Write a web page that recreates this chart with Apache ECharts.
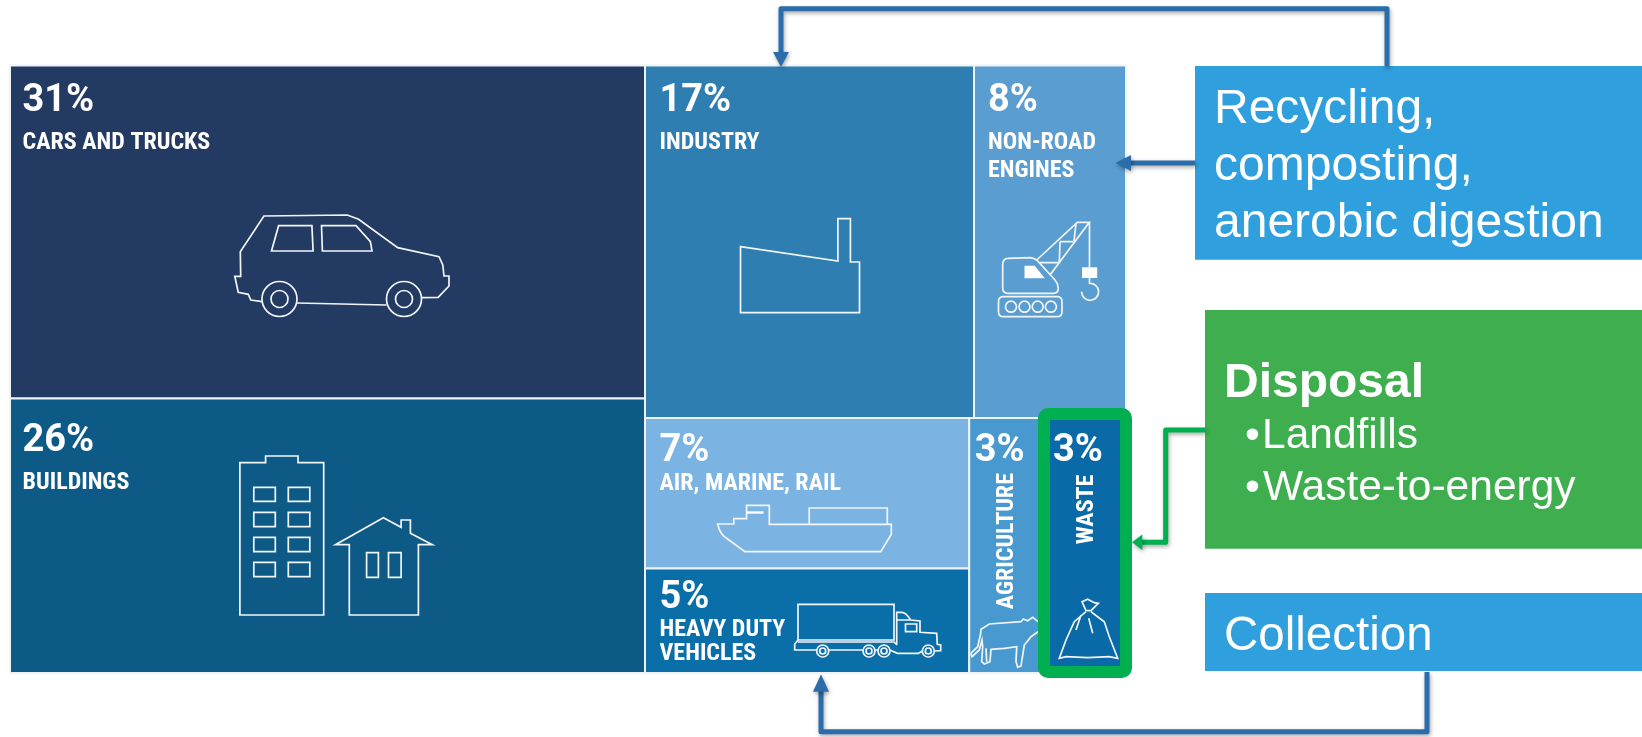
<!DOCTYPE html>
<html><head><meta charset="utf-8">
<style>html,body{margin:0;padding:0;background:#fff}#c{width:1642px;height:737px}</style>
<script src="https://cdn.jsdelivr.net/npm/echarts@6/dist/echarts.min.js"></script>
</head><body><div id="c"></div>
<script>
// Treemap data. Values are shares; the printed labels are these, rounded.
const categories = ['CARS AND TRUCKS','BUILDINGS','INDUSTRY','NON-ROAD\nENGINES','AIR, MARINE, RAIL','HEAVY DUTY\nVEHICLES','AGRICULTURE','WASTE'];
const shares = [31.2, 25.7, 17.1, 7.9, 7.2, 5.0, 2.95, 2.95];
const cellColors = ['#233a62','#0d5a87','#2e7eb2','#5a9dd0','#7bb4e3','#0a6fa9','#4899d0','#0a6aa8'];

// Slice-and-dice nesting of the treemap, computed only from shares (x,y in percent of the plot)
function cellsFromShares(v){
  const L=v[0]+v[1], R=v[2]+v[3]+v[4]+v[5]+v[6]+v[7], T=v[2]+v[3], B=R-T, Bl=v[4]+v[5], Br=v[6]+v[7];
  const tot=L+R, xm=100*L/tot, wr=100-xm, ym=100*T/R;
  const xi=xm+wr*v[2]/T, xb=xm+wr*Bl/B, xw=xb+(100-xb)*v[6]/Br, ya=ym+(100-ym)*v[4]/Bl;
  return [
    [0,0,xm,100*v[0]/L],[0,100*v[0]/L,xm,100],
    [xm,0,xi,ym],[xi,0,100,ym],
    [xm,ym,xb,ya],[xm,ya,xb,100],
    [xb,ym,xw,100],[xw,ym,100,100]
  ];
}
const cells = cellsFromShares(shares);

const NARROW = '"Liberation Sans Narrow","Roboto Condensed",Roboto,sans-serif';
const pctFont = 'bold 38px Roboto,sans-serif';
const nameFont = 'bold 24px '+NARROW;
// label placement relative to each cell's top-left corner: dx, percent baseline, name baselines
const labelPlace = [
  {dx:12.5,p:45.5,n:[83.5]},{dx:12.5,p:52.7,n:[91]},
  {dx:14.5,p:45.5,n:[83.5]},{dx:14,p:45.5,n:[83.5,112]},
  {dx:14.5,p:44,n:[72.7]},{dx:14.5,p:40,n:[68,91.6]},
  {dx:5.5,p:44,rot:[44.5,191.3]},{dx:5.3,p:44,rot:[45.8,126.3]}
];
function baseText(text,x,y,font,extra){
  return Object.assign({type:'text',x:x,y:y,style:{text:text,font:font,fill:'#fff',align:'left',textAlign:'left',verticalAlign:'bottom',textVerticalAlign:'bottom'}},extra||{});
}
function renderCell(params,api){
  const i=params.dataIndex;
  const a=api.coord([api.value(0),api.value(1)]), b=api.coord([api.value(2),api.value(3)]);
  const pl=labelPlace[i], kids=[{type:'rect',shape:{x:a[0],y:a[1],width:b[0]-a[0],height:b[1]-a[1]},style:{fill:cellColors[i],stroke:'#eef3f8',lineWidth:2}}];
  const PB=9, NB=5.5; // descender room under the baseline for the 'bottom' text anchor
  kids.push(baseText(Math.round(shares[i])+'%',a[0]+pl.dx,a[1]+pl.p+PB,pctFont));
  if(pl.rot){
    kids.push(baseText(categories[i],a[0]+pl.rot[0]+NB,a[1]+pl.rot[1],nameFont,{rotation:Math.PI/2}));
  }else{
    categories[i].split('\n').forEach(function(s,k){kids.push(baseText(s,a[0]+pl.dx,a[1]+pl.n[k]+NB,nameFont));});
  }
  return {type:'group',children:kids};
}

// Line icons (decoration inside the cells)
const strokeIcons = [
 // car
 'M421.7 297.7L438.1 297.3L449 286L449 276L444 276L442.8 265L439 256.7L397.7 247.7L358.6 219.3L347.2 215L263.9 216L240.3 251.7L240.7 276.3L234.8 276.3L238.2 292.3L248.3 294.3L250.8 300L262.2 301.7M296.7 303L386.4 305',
 'M278.6 225.7L311.9 225.7L313.1 251L271.5 251ZM321.5 225.7L356 225.7L370.4 241.7L372 251L322.4 251Z',
 'M262 299a17.3 17.3 0 1 0 35 0a17.3 17.3 0 1 0 -35 0ZM271 299a8.4 8.4 0 1 0 17 0a8.4 8.4 0 1 0 -17 0ZM386.5 299a17.3 17.3 0 1 0 35 0a17.3 17.3 0 1 0 -35 0ZM395.5 299a8.4 8.4 0 1 0 17 0a8.4 8.4 0 1 0 -17 0Z',
 // buildings
 'M239.9 462.7L265.6 462.7L265.6 456L298 456L298 462.7L323.7 462.7L323.7 615L239.9 615Z',
 'M253.8 487.3h21.5v14h-21.5ZM288.3 487.3h21.5v14h-21.5ZM253.8 512.3h21.5v14.4h-21.5ZM288.3 512.3h21.5v14.4h-21.5ZM253.8 537.3h21.5v14.4h-21.5ZM288.3 537.3h21.5v14.4h-21.5ZM253.8 562.3h21.5v14.4h-21.5ZM288.3 562.3h21.5v14.4h-21.5Z',
 'M335.4 544.7L383.4 517.7L401.1 527.3L401.1 520L410.4 520L410.4 533.3L432.2 544.7L418.4 544.7L418.4 615L349.3 615L349.3 544.7ZM366.6 552.7h11.8v24.6h-11.8ZM388.5 552.7h12.6v24.6h-12.6Z',
 // factory
 'M740.5 246.7L837.9 261L837.9 218.7L850.4 218.7L850.4 262L859.5 262L859.5 312.7L740.5 312.7Z',
 // crane
 'M1002.7 265Q1002.7 258.3 1008 258.3L1030 257.7Q1033.5 258 1036.7 260L1055 280Q1058.3 284 1058.3 288.3Q1058.3 293.3 1053.3 293.3L1008 293.3Q1002.7 293.3 1002.7 288Z',
 'M1036.7 260L1077.3 222.3L1089.3 222.3L1050 275M1076 223.3L1074 241M1060 241.7L1073.3 241.7M1060 241.7L1059.3 261.7M1040 262.7L1058.3 262.7M1089.5 222.3L1089.5 267.3M1089.5 278L1089.5 283.3A8.5 8.5 0 1 1 1081.6 291.7',
 'M1003.5 296.7L1057 296.7Q1062 296.7 1062 301.7L1062 311.7Q1062 316.7 1057 316.7L1003.5 316.7Q998.5 316.7 998.5 311.7L998.5 301.7Q998.5 296.7 1003.5 296.7Z',
 'M1005.5 306.7a5.5 5.5 0 1 0 11 0a5.5 5.5 0 1 0 -11 0ZM1019 306.7a5.5 5.5 0 1 0 11 0a5.5 5.5 0 1 0 -11 0ZM1032.2 306.7a5.5 5.5 0 1 0 11 0a5.5 5.5 0 1 0 -11 0ZM1045.4 306.7a5.5 5.5 0 1 0 11 0a5.5 5.5 0 1 0 -11 0Z',
 // ship
 'M717.6 524L733.8 524L733.8 518.7L746.6 518.7L746.6 505.3L769.3 505.3L769.3 524.3L809.2 524.3L809.2 508L887.3 508L887.3 524.3L891.3 524.3L891.3 534.3L880.8 551.7L744.9 551.7L728 539.3Q720 535 717.6 524ZM809.2 524.3L887.3 524.3',
 // truck
 'M798 604.3L894 604.3L894 640L798 640ZM798 642L894 642L897 645M798 640L794.7 644.3L794.7 650L817 650M829 650L863 650M875 650L878 650M890 650L897.3 653.3L918.3 653.3L922.7 651M934 651L940.7 650.7L940.7 645L937.3 644.3L936.7 633.3L920 632.3L920 621L910.7 620Q906 612.3 901.7 612.3L896.7 612.3L896.7 645M896.7 620L910.7 620M905.5 624h11.2v7.7h-11.2Z',
 'M816.7 651a6 6 0 1 0 12 0a6 6 0 1 0 -12 0ZM819.7 651a3 3 0 1 0 6 0a3 3 0 1 0 -6 0ZM863 651a6 6 0 1 0 12 0a6 6 0 1 0 -12 0ZM866 651a3 3 0 1 0 6 0a3 3 0 1 0 -6 0ZM878 651a6 6 0 1 0 12 0a6 6 0 1 0 -12 0ZM881 651a3 3 0 1 0 6 0a3 3 0 1 0 -6 0ZM922.3 651a6 6 0 1 0 12 0a6 6 0 1 0 -12 0ZM925.3 651a3 3 0 1 0 6 0a3 3 0 1 0 -6 0Z',
 // cow
 'M970.7 653.3L977.7 646.7L980.7 633.3L981 629.3L989.3 624L1021 621.7L1023.3 619L1027.7 620.7L1032.7 617.3L1038 621.7M1038 631.7L1031 636.7L1024.3 645L1021 666L1017.7 667.3L1016 661.7L1016.7 646.7L1004.3 648.3L991 649.3L990 661.7L984.3 664L981.7 661.7L982.7 646.7L982 640L979.3 650L972 656.7L970.7 653.3M986 648.3L986.7 661.7',
 // bag
 'M1082 601.7L1087.7 599.3L1094.3 602.7L1098.3 603.3L1091 610.7L1086 610.7Z',
 'M1086 611.7L1074.3 621.7L1066 640L1059.3 658.3L1066 656.7L1087.7 657.7L1109.3 656.7L1117.7 658.3L1109.3 636.7L1104.3 621.7L1091 611.7M1081 615L1076 630M1088.7 618.3L1092.7 633.3'
];
const fillIcons = [
 'M1024.5 265.7L1034.7 265.7L1044.8 278.3L1024.5 278.3Z',
 'M1082 267.3H1097.2V278H1082Z',
 'M746.6 511.3H763.5V513.7H746.6Z'
];
function renderIcon(params){
  const i=params.dataIndex, n=strokeIcons.length;
  return i<n ? {type:'path',shape:{pathData:strokeIcons[i]},style:{fill:'none',stroke:'#f2f5f8',lineWidth:1.7,lineJoin:'miter'}}
             : {type:'path',shape:{pathData:fillIcons[i-n]},style:{fill:'#fff'}};
}

// Side boxes, their text and the connecting arrows
const BLUE='#2b6cab', GREEN='#00b050', BOXBLUE='#2f9fdd', BOXGREEN='#3eae4e';
const sans='"Liberation Sans",Arial,sans-serif';
const shadow={shadowColor:'rgba(0,0,0,0.35)',shadowBlur:4,shadowOffsetX:1,shadowOffsetY:2};
function box(x,y,x2,y2,fill){return {type:'rect',shape:{x:x,y:y,width:x2-x,height:y2-y},style:{fill:fill},z:100};}
function txt(s,x,base,size,bold){return {type:'text',x:x,y:base+size*0.212,z:103,style:{text:s,fill:'#fff',font:(bold?'bold ':'')+size+'px '+sans,textAlign:'left',textVerticalAlign:'bottom'}};}
function line(pts,color){return {type:'polyline',z:101,shape:{points:pts},style:Object.assign({fill:null,stroke:color,lineWidth:5,lineJoin:'round'},shadow)};}
function head(pts,color){return {type:'polygon',z:102,shape:{points:pts},style:Object.assign({fill:color},shadow)};}

const graphics=[
  {type:'rect',z:100,shape:{x:1044,y:414,width:82,height:258,r:4},style:{fill:'none',stroke:GREEN,lineWidth:12}},
  box(1195,66,1642,259.7,BOXBLUE),
  box(1205,310,1642,548.7,BOXGREEN),
  box(1205,593,1642,671,BOXBLUE),
  line([[1387,66],[1387,8.7],[781,8.7],[781,55]],BLUE), head([[773,52],[789,52],[781,67]],BLUE),
  line([[1195,163],[1128,163]],BLUE), head([[1131,155],[1131,171],[1115.5,163]],BLUE),
  line([[1205,430],[1165.7,430],[1165.7,542.3],[1140,542.3]],GREEN), head([[1142.3,534.5],[1142.3,550],[1132,542.3]],GREEN),
  line([[1427,672],[1427,731.7],[821,731.7],[821,688]],BLUE), head([[813,691.7],[829,691.7],[821,674.3]],BLUE),
  txt('Recycling,',1214,123.5,48), txt('composting,',1214,180.5,48), txt('anerobic digestion',1214,238,48),
  txt('Disposal',1224,397.7,48,true),
  txt('•',1245,448.3,42.5), txt('Landfills',1262,448.3,42.5),
  txt('•',1245,500.3,42.5), txt('Waste-to-energy',1263,500.3,42.5),
  txt('Collection',1224,651.3,47.5)
];

const chart=echarts.init(document.getElementById('c'),null,{renderer:'canvas'});
chart.setOption({
  animation:false,
  backgroundColor:'#fff',
  grid:{left:10,top:65.5,width:1116,height:607.5},
  xAxis:{type:'value',min:0,max:100,show:false},
  yAxis:{type:'value',min:0,max:100,inverse:true,show:false},
  tooltip:{show:false},
  series:[
    {type:'custom',coordinateSystem:'cartesian2d',renderItem:renderCell,data:cells,z:2,silent:true},
    {type:'custom',coordinateSystem:'none',renderItem:renderIcon,data:strokeIcons.concat(fillIcons).map(function(_,i){return i;}),z:3,silent:true}
  ],
  graphic:{elements:graphics}
});
</script></body></html>
